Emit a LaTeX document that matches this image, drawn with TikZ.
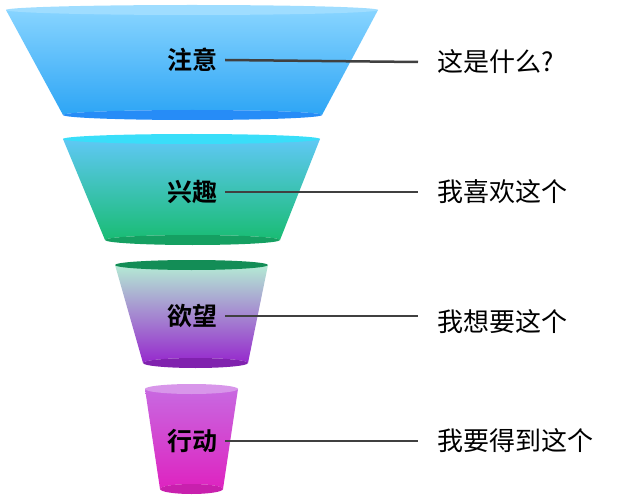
\documentclass[tikz,border=0pt]{standalone}
\usepackage{fontspec}
\setmainfont{Noto Sans CJK SC}
\newfontfamily\cjkb[FakeBold=0]{Noto Sans CJK SC Bold}
\begin{document}
\begin{tikzpicture}[x=1pt,y=-1pt,
  lab/.style={font=\cjkb\fontsize{25}{25}\selectfont,inner sep=0pt},
  rt/.style={font=\fontsize{26}{26}\selectfont,inner sep=0pt,anchor=west},
  con/.style={line width=2.5pt,draw=black!75}]
\useasboundingbox (0,0) rectangle (632,500);
% funnel macro-ish, drawn explicitly
\definecolor{a1}{RGB}{135,212,255}\definecolor{a2}{RGB}{45,165,245}
\definecolor{b1}{RGB}{95,200,245}\definecolor{b2}{RGB}{25,188,115}
\definecolor{c1}{RGB}{180,235,212}\definecolor{c2}{RGB}{150,40,205}
\definecolor{d1}{RGB}{200,105,225}\definecolor{d2}{RGB}{222,35,192}
% 1
\shade[top color=a1,bottom color=a2] (6,10) -- (378,10) -- (322,115) arc[start angle=0,end angle=-180,x radius=129.5,y radius=5] -- cycle;
\fill[a2!85!blue] (192.5,115) ellipse[x radius=129.5,y radius=5];
\fill[a1!80!white] (192,10) ellipse[x radius=186,y radius=5];
% 2
\shade[top color=b1,bottom color=b2] (63,139) -- (320,139) -- (280,240) arc[start angle=0,end angle=-180,x radius=87.5,y radius=5] -- cycle;
\fill[b2!85!black] (192.5,240) ellipse[x radius=87.5,y radius=5];
\fill[b1!60!cyan] (191.5,139) ellipse[x radius=128.5,y radius=5];
% 3
\shade[top color=c1,bottom color=c2] (115,265) -- (268,265) -- (248,363) arc[start angle=0,end angle=-180,x radius=52.5,y radius=5] -- cycle;
\fill[c2!85!black] (195.5,363) ellipse[x radius=52.5,y radius=5];
\fill[b2!75!black] (191.5,265) ellipse[x radius=76.5,y radius=5];
% 4
\shade[top color=d1,bottom color=d2] (145,389) -- (238,389) -- (223,489) arc[start angle=0,end angle=-180,x radius=31.5,y radius=5] -- cycle;
\fill[d2!90!black] (191.5,489) ellipse[x radius=31.5,y radius=5];
\fill[d1!70!white] (191.5,389) ellipse[x radius=46.5,y radius=5];
% labels
\node[lab] (l1) at (192,60) {注意};
\node[lab] (l2) at (192,192) {兴趣};
\node[lab] (l3) at (192,316) {欲望};
\node[lab] (l4) at (192,441) {行动};
\node[rt] (r1) at (437,62) {这是什么?};
\node[rt] (r2) at (437,192) {我喜欢这个};
\node[rt] (r3) at (437,322) {我想要这个};
\node[rt] (r4) at (437,441) {我要得到这个};
\coordinate (e1) at (418,62);\coordinate (e2) at (418,192);
\coordinate (e3) at (418,316);\coordinate (e4) at (418,441);
\draw[con] (l1.east)++(8,0) -- (e1);
\draw[con] (l2.east)++(8,0) -- (e2);
\draw[con] (l3.east)++(8,0) -- (e3);
\draw[con] (l4.east)++(8,0) -- (e4);
\end{tikzpicture}
\end{document}
